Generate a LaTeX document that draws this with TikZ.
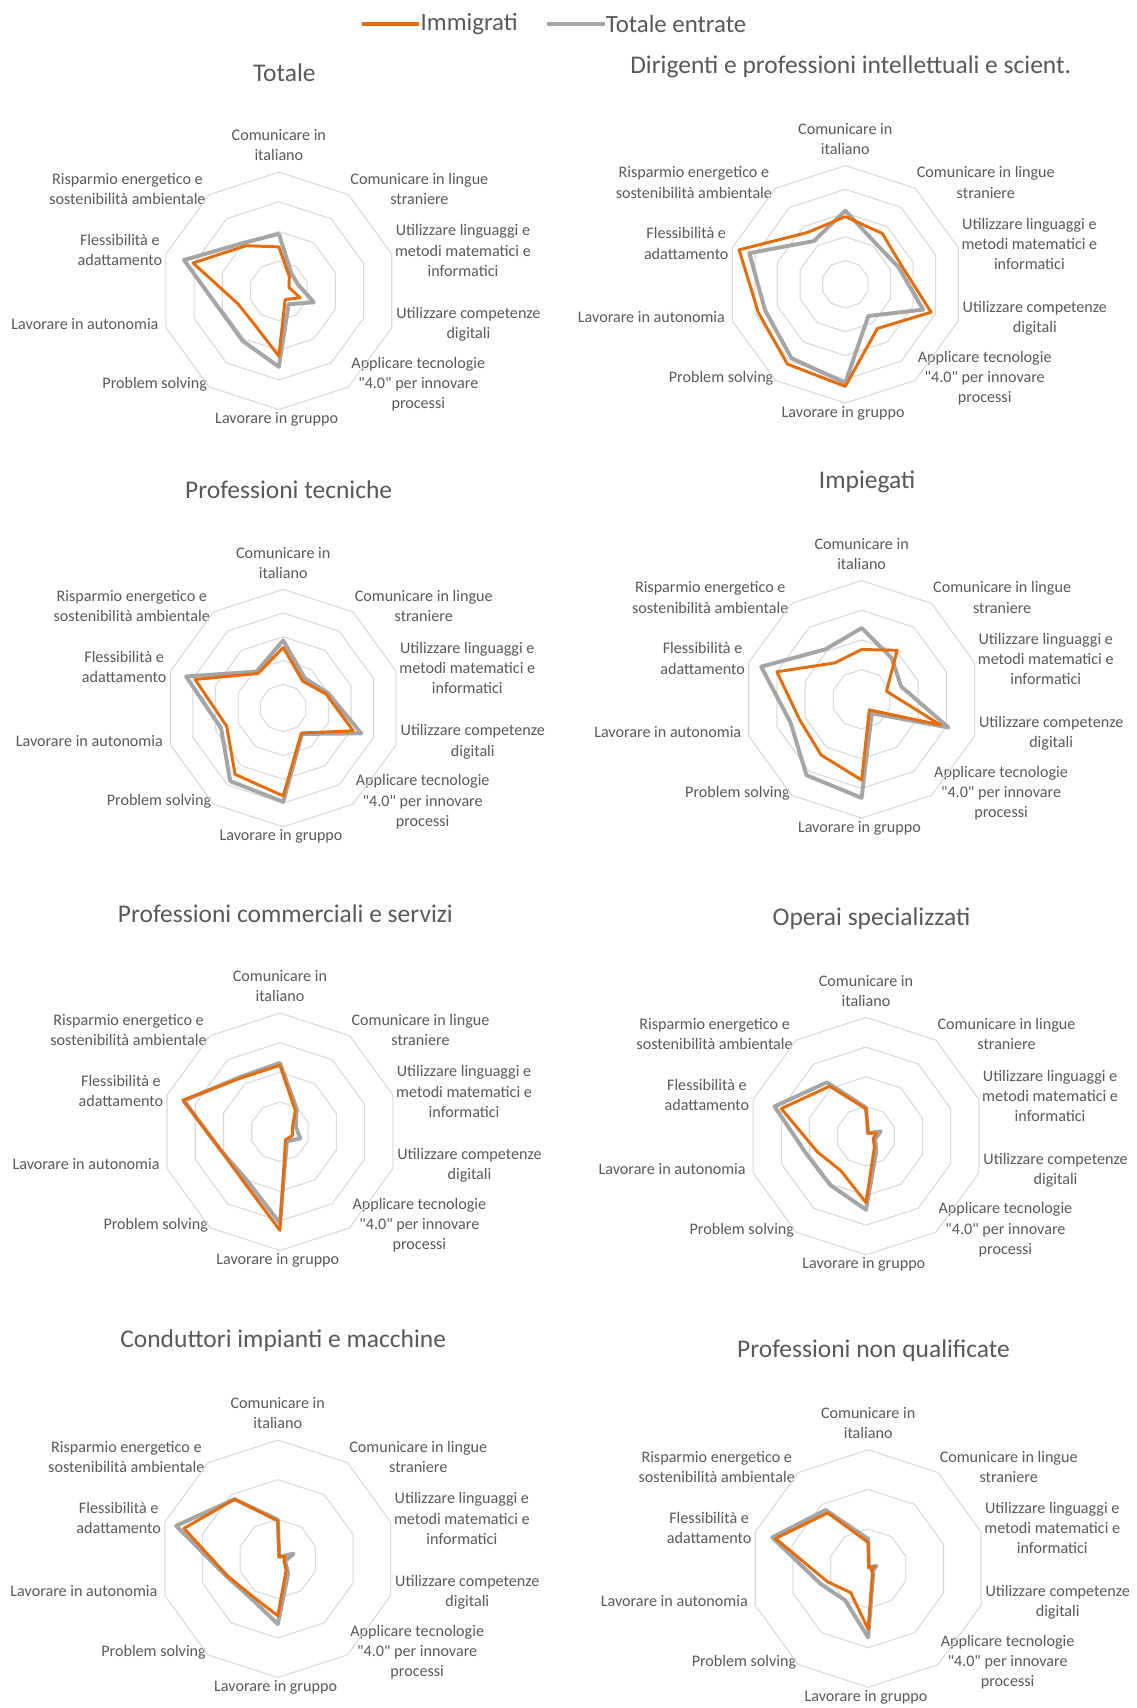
\documentclass[tikz,border=0pt]{standalone}
\usepackage{fontspec}
\setmainfont{Carlito}[Ligatures=TeXOff]
\definecolor{txt}{HTML}{595959}
\definecolor{gridc}{HTML}{D9D9D9}
\definecolor{imm}{HTML}{E46C0A}
\definecolor{tot}{HTML}{A5A5A5}
\newcommand{\RR}{109}
\tikzset{
 ringline/.style={draw=gridc, line width=1pt},
 totline/.style={draw=tot, line width=3.6pt, line join=round},
 immline/.style={draw=imm, line width=2.7pt, line join=round},
 axlab/.style={text=txt, font=\fontsize{14.8}{18.5}\selectfont, align=center, inner sep=0pt},
 charttitle/.style={text=txt, font=\fontsize{23.4}{28}\selectfont, inner sep=0pt},
 legtext/.style={text=txt, font=\fontsize{22.8}{27}\selectfont, inner sep=0pt, anchor=west},
}
\newcommand{\radar}[7]{%
 \begin{scope}[shift={(#2,#3)}]
  \node[charttitle] (#1-title) at (5,-200) {#5};
  \node[axlab] (#1-l1) at (0,-133.5) {Comunicare in\\italiano};
  \node[axlab] (#1-l2) at (129,-93.5) {Comunicare in lingue\\straniere};
  \node[axlab] (#1-l3) at (169,-37) {Utilizzare linguaggi e\\metodi matematici e\\informatici};
  \node[axlab] (#1-l4) at (174,31) {Utilizzare competenze\\digitali};
  \node[axlab] (#1-l5) at (128,86) {Applicare tecnologie\\"4.0" per innovare\\processi};
  \node[axlab] (#1-l6) at (-2,118) {Lavorare in gruppo};
  \node[axlab] (#1-l7) at (-114,86) {Problem solving};
  \node[axlab] (#1-l8) at (-178,30) {Lavorare in autonomia};
  \node[axlab] (#1-l9) at (-146,-37.5) {Flessibilità e\\adattamento};
  \node[axlab] (#1-l10) at (-139,-93.5) {Risparmio energetico e\\sostenibilità ambientale};
  \begin{scope}[yscale=-1]
   \foreach \k in {1,...,#4} {
    \pgfmathsetmacro\rr{\RR*\k/#4}
    \draw[ringline] (90:\rr) -- (54:\rr) -- (18:\rr) -- (-18:\rr) -- (-54:\rr) -- (-90:\rr) -- (-126:\rr) -- (-162:\rr) -- (162:\rr) -- (126:\rr) -- cycle;
   }
   \foreach \v [count=\i from 0] in {#6} { \coordinate (#1-g\i) at ({90-36*\i}:{\RR*\v}); }
   \foreach \v [count=\i from 0] in {#7} { \coordinate (#1-o\i) at ({90-36*\i}:{\RR*\v}); }
   \draw[totline] (#1-g0) -- (#1-g1) -- (#1-g2) -- (#1-g3) -- (#1-g4) -- (#1-g5) -- (#1-g6) -- (#1-g7) -- (#1-g8) -- (#1-g9) -- cycle;
   \draw[immline] (#1-o0) -- (#1-o1) -- (#1-o2) -- (#1-o3) -- (#1-o4) -- (#1-o5) -- (#1-o6) -- (#1-o7) -- (#1-o8) -- (#1-o9) -- cycle;
  \end{scope}
 \end{scope}}
\begin{document}
\begin{tikzpicture}[x=1pt,y=-1pt]
\fill[white] (0,0) rectangle (1043,1568);
\useasboundingbox (0,0) rectangle (1043,1568);
% legend
\node[legtext] (leg1) at (386,22) {Immigrati};
\node[legtext] (leg2) at (556,22) {Totale entrate};
\coordinate (leg1s) at (332,22);
\coordinate (leg2s) at (502,22);
\draw[draw=imm, line width=3.8pt] (leg1s) -- ([xshift=-1pt]leg1.west);
\draw[draw=tot, line width=3.8pt] (leg2s) -- ([xshift=-1pt]leg2.west);
% charts
\radar{c1}{256}{267}{4}{Totale}
 {0.48,0.18,0.17,0.31,0.14,0.64,0.52,0.52,0.84,0.5}
 {0.37,0.15,0.09,0.19,0.09,0.55,0.35,0.36,0.76,0.47}
\radar{c2}{776}{261}{5}{Dirigenti e professioni intellettuali e scient.}
 {0.62,0.43,0.47,0.69,0.33,0.83,0.77,0.71,0.85,0.45}
 {0.57,0.53,0.5,0.76,0.46,0.86,0.83,0.77,0.94,0.54}
\radar{c3}{260}{650}{5}{Professioni tecniche}
 {0.57,0.31,0.40,0.69,0.27,0.79,0.76,0.55,0.86,0.38}
 {0.51,0.28,0.38,0.62,0.26,0.74,0.69,0.50,0.78,0.36}
\radar{c4}{791}{642}{4}{Impiegati}
 {0.6,0.43,0.35,0.77,0.145,0.83,0.79,0.63,0.89,0.52}
 {0.42,0.51,0.22,0.7,0.11,0.68,0.58,0.55,0.75,0.38}
\radar{c5}{257}{1039}{4}{Professioni commerciali e servizi}
 {0.58,0.24,0.14,0.18,0.1,0.77,0.49,0.52,0.85,0.57}
 {0.56,0.22,0.11,0.11,0.08,0.83,0.52,0.52,0.86,0.56}
\radar{c6}{795}{1043}{4}{Operai specializzati}
 {0.24,0.03,0.13,0.08,0.15,0.62,0.51,0.52,0.81,0.56}
 {0.23,0.03,0.09,0.065,0.12,0.56,0.36,0.43,0.75,0.52}
\radar{c7}{255}{1431}{3}{Conduttori impianti e macchine}
 {0.33,0.02,0.14,0.065,0.15,0.55,0.4,0.46,0.9,0.62}
 {0.32,0.02,0.065,0.055,0.12,0.48,0.38,0.45,0.83,0.62}
\radar{c8}{797}{1440}{3}{Professioni non qualificate}
 {0.25,0.01,0.075,0.045,0.07,0.58,0.33,0.42,0.85,0.61}
 {0.22,0.01,0.055,0.03,0.06,0.51,0.25,0.36,0.82,0.58}
\end{tikzpicture}
\end{document}
